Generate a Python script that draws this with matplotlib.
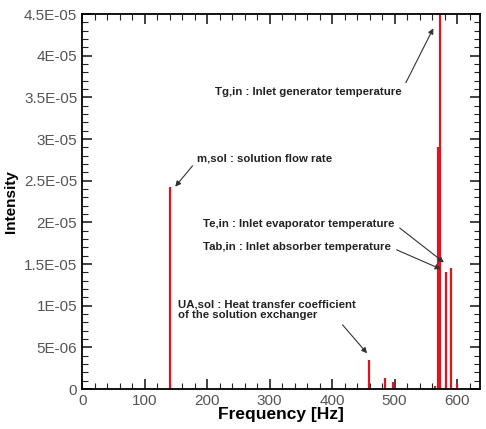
import matplotlib
matplotlib.use("Agg")
import matplotlib.pyplot as plt
from matplotlib.ticker import MultipleLocator

# spectrum peaks (frequency [Hz], intensity)
freq = [140, 459, 485, 498, 565, 570, 573, 582, 590, 600]
intensity = [2.42e-05, 3.5e-06, 1.3e-06, 8e-07, 4e-07, 2.9e-05, 4.5e-05, 1.40e-05, 1.45e-05, 6e-07]

# label, arrow tip (x, y), text start (x, y), arrow start relative to text box
notes = [
    ("m,sol : solution flow rate", 149, 2.43e-05, 184, 2.77e-05, (0.0, 0.3)),
    ("Tg,in : Inlet generator temperature", 562, 4.33e-05, 213, 3.57e-05, (1.0, 0.6)),
    ("Te,in : Inlet evaporator temperature", 579, 1.52e-05, 194, 1.98e-05, (1.0, 0.5)),
    ("Tab,in : Inlet absorber temperature", 574, 1.44e-05, 194, 1.70e-05, (1.0, 0.5)),
    ("UA,sol : Heat transfer coefficient\nof the solution exchanger", 456, 4.3e-06, 154, 9.5e-06, (0.88, 0.2)),
]

plt.rcParams['font.family'] = ['Liberation Sans', 'DejaVu Sans']

fig = plt.figure(figsize=(4.86, 4.29), dpi=100)
ax = fig.add_axes([0.169, 0.093, 0.819, 0.874])

ax.vlines(freq, 0, intensity, color="#e3121f", lw=1.6)

ax.set_xlim(0, 637)
ax.set_ylim(0, 4.5e-05)
ax.xaxis.set_major_locator(MultipleLocator(100))
ax.xaxis.set_minor_locator(MultipleLocator(20))
ax.yaxis.set_major_locator(MultipleLocator(5e-06))
ax.yaxis.set_minor_locator(MultipleLocator(1e-06))
ax.tick_params(which="both", direction="in", top=True, right=True, colors="#222222",
               labelcolor="#555555", labelsize=11)
ax.tick_params(which="major", length=7, width=1.2)
ax.tick_params(which="minor", length=4, width=0.8)

ylabels = ["0", "5E-06", "1E-05", "1.5E-05", "2E-05", "2.5E-05", "3E-05", "3.5E-05", "4E-05", "4.5E-05"]
ax.set_yticks([i * 5e-06 for i in range(10)])
ax.set_yticklabels(ylabels)

for sp in ax.spines.values():
    sp.set_linewidth(1.3)

ax.set_xlabel("Frequency [Hz]", fontsize=12.5, fontweight="bold", labelpad=-1)
ax.set_ylabel("Intensity", fontsize=11, fontweight="bold", labelpad=4)

for txt, x, y, tx, ty, rp in notes:
    ax.annotate(txt, xy=(x, y), xytext=(tx, ty), fontsize=8.2, fontweight="bold",
                color="#222222", ha="left", va="center", linespacing=1.0,
                arrowprops=dict(arrowstyle="-|>", color="#333333", lw=0.8,
                                mutation_scale=8, shrinkA=2, shrinkB=0, relpos=rp))

fig.savefig("out.png", dpi=100)
